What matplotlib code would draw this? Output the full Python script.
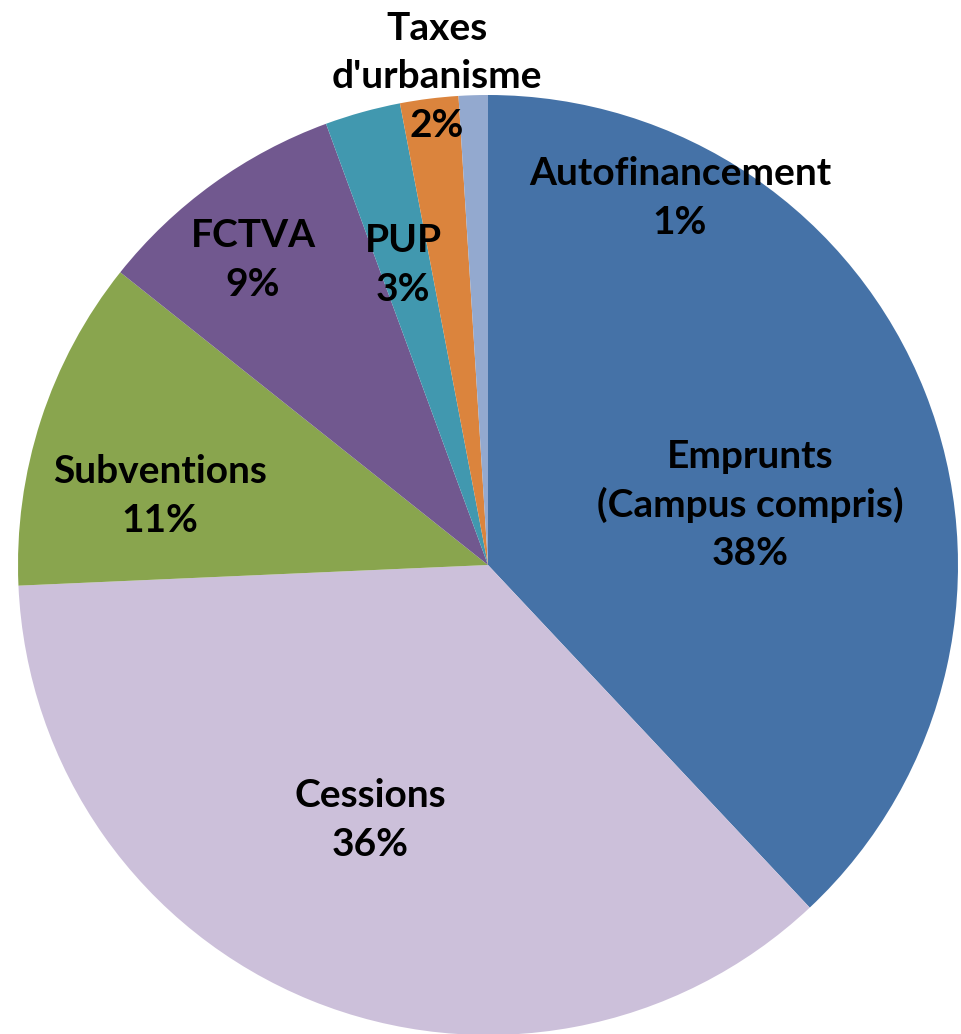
import matplotlib
matplotlib.use("Agg")
from matplotlib import pyplot as plt

# data (clockwise from 12 o'clock)
categories = ["Emprunts\n(Campus compris)", "Cessions", "Subventions", "FCTVA",
              "PUP", "Taxes\nd'urbanisme", "Autofinancement"]
values = [38.0, 36.3, 11.4, 8.7, 2.6, 2.0, 1.0]
colors = ["#4572A7", "#CCC0DA", "#89A54E", "#71588F", "#4198AF", "#DB843D", "#93A9CF"]

# label centres in pixels of the 961x1034 image
label_px = [(750, 505), (370, 820), (160, 496), (253, 260), (403, 265), (437, 77), (680, 198)]

W, H = 961, 1034
cx, cy, R = 488, 565, 470

fig = plt.figure(figsize=(W / 100, H / 100), dpi=100)
ax = fig.add_axes([0, 0, 1, 1])
ax.pie(values, colors=colors, startangle=90, counterclock=False, radius=1,
       wedgeprops=dict(linewidth=0))
ax.set_xlim(-cx / R, (W - cx) / R)
ax.set_ylim(-(H - cy) / R, cy / R)
ax.set_aspect("equal")
ax.axis("off")

total = sum(values)
for name, v, (px, py) in zip(categories, values, label_px):
    ax.text((px - cx) / R, (cy - py) / R, f"{name}\n{round(v / total * 100):.0f}%",
            ha="center", va="center", fontsize=28, fontweight="bold",
            family="Lato", linespacing=1.45, color="black")

fig.savefig("out.png", dpi=100)
